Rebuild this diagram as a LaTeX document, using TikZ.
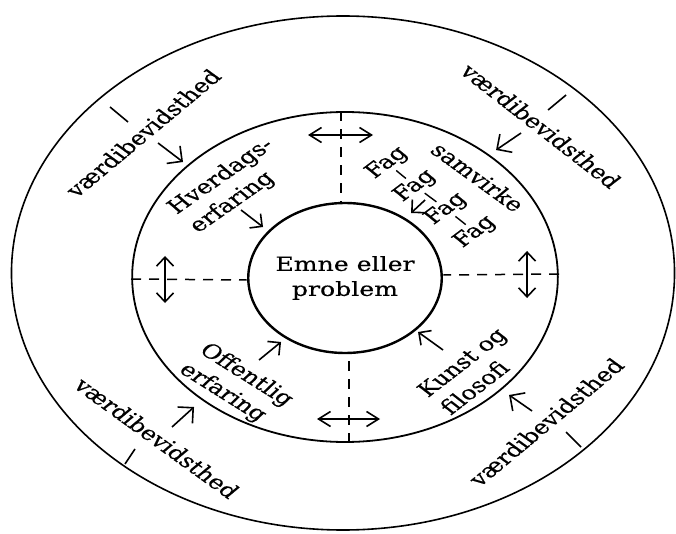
\documentclass[tikz,border=0pt]{standalone}
\usepackage{fontspec}
\setmainfont{DejaVu Serif}[FakeBold=0.4]
\usetikzlibrary{arrows.meta,calc}
\begin{document}
\begin{tikzpicture}
\begin{scope}[xscale=1.29, x=0.775194pt, y=-1pt,
  every node/.append style={transform shape, font=\fontsize{19.5}{25}\selectfont, inner sep=0pt},
  ring/.style={circle, draw, line width=1.8pt, inner sep=0pt},
  lbl/.style={align=left},
  inarrow/.style={line width=1.6pt, -{Straight Barb[length=11pt,width=22pt]}},
  smallarrow/.style={line width=1.6pt, -{Straight Barb[length=9pt,width=18pt]}},
  dblh/.style={line width=1.6pt, {Straight Barb[length=12pt,width=15pt]}-{Straight Barb[length=12pt,width=15pt]}},
  dblv/.style={line width=1.6pt, {Straight Barb[length=9pt,width=17pt]}-{Straight Barb[length=9pt,width=17pt]}},
  dashline/.style={line width=1.5pt, dash pattern=on 10pt off 8pt},
  markline/.style={line width=1.6pt},
  bar/.style={line width=1.4pt, shorten <=1pt, shorten >=1pt}]
\useasboundingbox (0,0) rectangle (676,534);
\fill[white] (0,0) rectangle (676,534);

% rings
\node[ring, minimum size=514pt, line width=1.6pt] (outer) at (343,273) {};
\node[ring, minimum size=330pt] (mid) at (345,277) {};
\node[ring, minimum size=150pt, line width=2.4pt, align=center] (inner) at (345,278) {Emne eller\\problem};

% dashed dividers
\draw[dashline] ($(mid.north)+(-4,0)$) -- ($(inner.north)+(-4,0)$);
\draw[dashline] ($(mid.south)+(4,0)$) -- ($(inner.south)+(4,0)$);
\draw[dashline] ($(mid.west)+(0,2)$) -- ($(inner.west)+(0,2)$);
\draw[dashline] ($(mid.east)+(0,-3)$) -- ($(inner.east)+(0,-3)$);

% double arrows
\coordinate (ta1) at (308,135); \coordinate (ta2) at (373,135);
\coordinate (ba1) at (317,419); \coordinate (ba2) at (380,419);
\coordinate (la1) at (165,256); \coordinate (la2) at (165,303);
\coordinate (ra1) at (527,251); \coordinate (ra2) at (527,298);
\draw[dblh] (ta1) -- (ta2);
\draw[dblh] (ba1) -- (ba2);
\draw[dblv] (la1) -- (la2);
\draw[dblv] (ra1) -- (ra2);

% outer labels
\node[rotate=47] (v1) at (143,133) {værdibevidsthed};
\node[rotate=-45] (v2) at (541,126) {værdibevidsthed};
\node[rotate=-43] (v3) at (157,438) {værdibevidsthed};
\node[rotate=47] (v4) at (546,422) {værdibevidsthed};

% outer marks
\coordinate (m1a) at (110,107); \coordinate (m1b) at (128,122);
\coordinate (m2a) at (566,95);  \coordinate (m2b) at (548,110);
\coordinate (m3a) at (135,449); \coordinate (m3b) at (125,464);
\coordinate (m4a) at (566,432); \coordinate (m4b) at (581,447);
\draw[markline] (m1a) -- (m1b);
\draw[markline] (m2a) -- (m2b);
\draw[markline] (m3a) -- (m3b);
\draw[markline] (m4a) -- (m4b);

% outer arrows
\coordinate (o1a) at (158,143); \coordinate (o1b) at (183,162);
\coordinate (o2a) at (521,133); \coordinate (o2b) at (496,150);
\coordinate (o3a) at (172,427); \coordinate (o3b) at (194,407);
\coordinate (o4a) at (532,411); \coordinate (o4b) at (509,395);
\draw[inarrow] (o1a) -- (o1b);
\draw[inarrow] (o2a) -- (o2b);
\draw[inarrow] (o3a) -- (o3b);
\draw[inarrow] (o4a) -- (o4b);

% inner ring labels
\node[lbl, rotate=42] (hv) at (232,186) {Hverdags-\\erfaring};
\node[rotate=-43] (sam) at (478,177) {samvirke};
\node[lbl, rotate=-39] (off) at (236,385) {Offentlig\\erfaring};
\node[lbl, rotate=45] (kun) at (473,371) {Kunst og\\filosofi};

% Fag column
\node[rotate=44] (f1) at (387,163) {Fag};
\node[rotate=44] (f2) at (415,186) {Fag};
\node[rotate=44] (f3) at (446,209) {Fag};
\node[rotate=44] (f4) at (475,232) {Fag};
\draw[bar] (f1) -- (f2);
\draw[bar] (f2) -- (f3);
\draw[bar] (f3) -- (f4);

% inner arrows
\coordinate (i1a) at (241,210); \coordinate (i1b) at (263,227);
\coordinate (i2a) at (259,360); \coordinate (i2b) at (281,342);
\coordinate (i3a) at (443,350); \coordinate (i3b) at (418,332);
\coordinate (i4a) at (425,200); \coordinate (i4b) at (411,213);
\draw[smallarrow] (i1a) -- (i1b);
\draw[smallarrow] (i2a) -- (i2b);
\draw[smallarrow] (i3a) -- (i3b);
\draw[smallarrow] (i4a) -- (i4b);
\end{scope}
\end{tikzpicture}
\end{document}
